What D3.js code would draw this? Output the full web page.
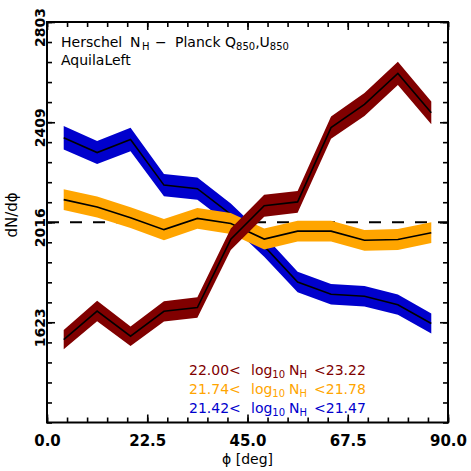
<!DOCTYPE html>
<html>
<head>
<meta charset="utf-8">
<script src="https://cdn.jsdelivr.net/npm/d3@7"></script>
<style>
  body { margin: 0; background: #fff; }
  text { font-family: "DejaVu Sans", sans-serif; fill: #000; }
</style>
</head>
<body>
<script>
"use strict";

// Data

let phi = [3.75, 11.25, 18.75, 26.25, 33.75, 41.25, 48.75, 56.25, 63.75, 71.25, 78.75, 86.25];

let blueVals = [2348, 2290, 2341, 2162, 2148, 2047, 1922, 1781, 1733, 1725, 1692, 1618];
let blueErr = [46, 45, 46, 44, 44, 43, 42, 40, 40, 40, 40, 39];

let orangeVals = [2105, 2076, 2034, 1987, 2031, 2011, 1950, 1981, 1981, 1945, 1948, 1975];
let orangeErr = [41, 41, 41, 42, 41, 41, 41, 41, 41, 41, 41, 41];

let redVals = [1555, 1667, 1568, 1666, 1681, 1949, 2081, 2096, 2388, 2479, 2601, 2446];
let redErr = [38, 40, 38, 40, 40, 42, 43, 43, 44, 45, 46, 45];

let meanLevel = 2016;
let xTicks = [0, 22.5, 45, 67.5, 90];
let yTicks = [1623, 2016, 2409, 2803];
let yDomain = [1229, 2803];

let legendLo = ["22.00", "21.74", "21.42"];
let legendHi = ["23.22", "21.78", "21.47"];

// Layout

let svgWidth = 471;
let svgHeight = 471;
let margin = {top: 22, right: 23, bottom: 48.5, left: 47};
let width = svgWidth - margin.left - margin.right;
let height = svgHeight - margin.top - margin.bottom;

let colors = {red: "#800000", orange: "#ffa500", blue: "#0000cd"};

let xScale = d3.scaleLinear()
    .domain([0, 90])
    .range([0, width]);

let yScale = d3.scaleLinear()
    .domain(yDomain)
    .range([height, 0]);

let svg = d3.select("body")
    .append("svg")
    .attr("width", svgWidth)
    .attr("height", svgHeight);

let g = svg.append("g")
    .attr("transform", `translate(${margin.left}, ${margin.top})`);

// Bands and lines

let series = [
    {vals: blueVals, err: blueErr, color: colors.blue},
    {vals: orangeVals, err: orangeErr, color: colors.orange},
    {vals: redVals, err: redErr, color: colors.red}
];

let area = d3.area()
    .x(d => xScale(d.x))
    .y0(d => yScale(d.y - d.e))
    .y1(d => yScale(d.y + d.e));

let line = d3.line()
    .x(d => xScale(d.x))
    .y(d => yScale(d.y));

// mean level, dashed
g.append("line")
    .attr("x1", 0)
    .attr("x2", width)
    .attr("y1", yScale(meanLevel))
    .attr("y2", yScale(meanLevel))
    .attr("stroke", "#000")
    .attr("stroke-width", 2)
    .attr("stroke-dasharray", "12,11");

series.forEach(s => {
    let pts = phi.map((x, i) => ({x: x, y: s.vals[i], e: s.err[i]}));
    g.append("path")
        .datum(pts)
        .attr("d", area)
        .attr("fill", s.color);
    g.append("path")
        .datum(pts)
        .attr("d", line)
        .attr("fill", "none")
        .attr("stroke", "#000")
        .attr("stroke-width", 1.6);
});

// Axes

let xMinor = d3.range(0, 90.01, 4.5);
let yStep = (yDomain[1] - yDomain[0]) / 20;
let yMinor = d3.range(0, 21).map(i => yDomain[0] + i * yStep);

function styleAxis(sel) {
    sel.select(".domain").remove();
    sel.selectAll(".tick line").attr("stroke-width", 1.6);
}

// minor ticks, all four sides
g.append("g")
    .attr("transform", `translate(0, ${height})`)
    .call(d3.axisBottom(xScale).tickValues(xMinor).tickSize(-5).tickFormat(""))
    .call(styleAxis);
g.append("g")
    .call(d3.axisTop(xScale).tickValues(xMinor).tickSize(-5).tickFormat(""))
    .call(styleAxis);
g.append("g")
    .call(d3.axisLeft(yScale).tickValues(yMinor).tickSize(-5).tickFormat(""))
    .call(styleAxis);
g.append("g")
    .attr("transform", `translate(${width}, 0)`)
    .call(d3.axisRight(yScale).tickValues(yMinor).tickSize(-5).tickFormat(""))
    .call(styleAxis);

// major ticks
g.append("g")
    .attr("transform", `translate(0, ${height})`)
    .call(d3.axisBottom(xScale).tickValues(xTicks).tickSize(-8).tickPadding(13).tickFormat(d3.format(".1f")))
    .call(styleAxis)
    .selectAll("text")
    .style("font-size", "15px")
    .style("font-weight", "bold")
    .attr("fill", "#000");
g.append("g")
    .call(d3.axisTop(xScale).tickValues(xTicks).tickSize(-8).tickFormat(""))
    .call(styleAxis);
g.append("g")
    .attr("transform", `translate(${width}, 0)`)
    .call(d3.axisRight(yScale).tickValues(yTicks).tickSize(-8).tickFormat(""))
    .call(styleAxis);

let yAx = g.append("g")
    .call(d3.axisLeft(yScale).tickValues(yTicks).tickSize(-8).tickFormat(d3.format("d")))
    .call(styleAxis);
yAx.selectAll("text")
    .attr("x", null)
    .attr("dy", null)
    .attr("text-anchor", "middle")
    .attr("transform", "translate(-2, 5) rotate(-90)")
    .style("font-size", "14px")
    .style("font-weight", "bold")
    .attr("fill", "#000");

// frame
g.append("rect")
    .attr("width", width)
    .attr("height", height)
    .attr("fill", "none")
    .attr("stroke", "#000")
    .attr("stroke-width", 2);

// Labels

svg.append("text")
    .attr("transform", "translate(17, 215) rotate(-90)")
    .attr("text-anchor", "middle")
    .style("font-size", "15px")
    .text("dN/d\u03d5");

svg.append("text")
    .attr("x", margin.left + width / 2)
    .attr("y", 464)
    .attr("text-anchor", "middle")
    .style("font-size", "14px")
    .text("\u03d5 [deg]");

// title, pieces placed like the original's wide spacing
let title = svg.append("text")
    .attr("y", 47)
    .style("font-size", "14px");
title.append("tspan").attr("x", 61).text("Herschel");
title.append("tspan").attr("x", 130).text("N");
title.append("tspan").attr("x", 142).attr("dy", 3).style("font-size", "10px").text("H");
title.append("tspan").attr("x", 155).attr("dy", -3).text("\u2212");
title.append("tspan").attr("x", 175).text("Planck Q");
title.append("tspan").attr("dy", 3).style("font-size", "10px").text("850");
title.append("tspan").attr("dy", -3).text(",U");
title.append("tspan").attr("dy", 3).style("font-size", "10px").text("850");

svg.append("text")
    .attr("x", 61)
    .attr("y", 65)
    .style("font-size", "14px")
    .text("AquilaLeft");

let legendColors = [colors.red, colors.orange, colors.blue];
let legendY = [375, 393.5, 412.5];
legendLo.forEach((lo, i) => {
    let t = svg.append("text")
        .attr("y", legendY[i])
        .style("font-size", "14px")
        .style("fill", legendColors[i]);
    t.append("tspan").attr("x", 189).text(lo + "<");
    t.append("tspan").attr("x", 251).text("log");
    t.append("tspan").attr("dy", 3).style("font-size", "10px").text("10");
    t.append("tspan").attr("x", 289).attr("dy", -3).text("N");
    t.append("tspan").attr("dy", 3).style("font-size", "10px").text("H");
    t.append("tspan").attr("x", 314).attr("dy", -3).text("<" + legendHi[i]);
});
</script>
</body>
</html>
